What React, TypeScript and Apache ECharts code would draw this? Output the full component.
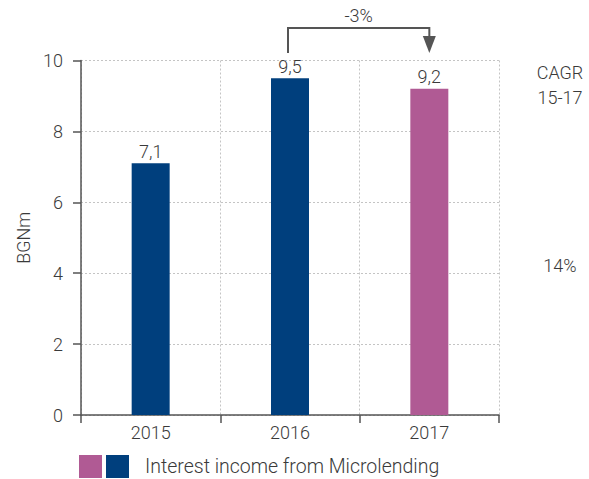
import React, { useEffect, useRef } from "react";
import * as echarts from "echarts";

const categories = ["2015", "2016", "2017"];
const values = [7.1, 9.5, 9.2];
const barColors = ["#003f7d", "#003f7d", "#b05a94"];
const yMin = 0;
const yMax = 10;
const yInterval = 2;
const changeLabel = "-3%";
const cagrLines = ["CAGR", "15-17"];
const cagrValue = "14%";
const legendLabel = "Interest income from Microlending";
const yAxisName = "BGNm";

const FONT = "Roboto, 'Liberation Sans', sans-serif";
const FW = 300;
const FS = 18;
const TEXT = "#3a3a3a";
const AXIS = "#555555";

export default function App() {
  const ref = useRef<HTMLDivElement>(null);
  useEffect(() => {
    if (!ref.current) return;
    const chart = echarts.init(ref.current, undefined, { renderer: "svg" });
    const gridTop = 60.5;
    const ts = { fontSize: FS, color: TEXT, fontFamily: FONT, fontWeight: FW };
    const option: any = {
      animation: false,
      textStyle: { fontFamily: FONT },
      grid: { left: 81, right: 90, top: gridTop, bottom: 64, containLabel: false },
      legend: {
        left: 106,
        top: 455,
        padding: 0,
        itemWidth: 23,
        itemHeight: 23,
        icon: "rect",
        selectedMode: false,
        textStyle: { ...ts, fontSize: 19.5, padding: [0, 0, 0, 11] },
        data: [legendLabel],
      },
      xAxis: {
        type: "category",
        data: categories,
        boundaryGap: true,
        axisLine: { show: true, lineStyle: { color: AXIS, width: 1.5 } },
        axisTick: { show: true, length: 8, lineStyle: { color: AXIS, width: 1.5 } },
        axisLabel: { ...ts, margin: 8 },
        splitLine: { show: true, lineStyle: { color: "#c4c4c4", type: [2, 2], width: 1 } },
      },
      yAxis: {
        type: "value",
        min: yMin,
        max: yMax,
        interval: yInterval,
        name: yAxisName,
        nameLocation: "middle",
        nameGap: 48,
        nameRotate: 90,
        nameTextStyle: { ...ts },
        axisLine: { show: true, lineStyle: { color: AXIS, width: 1.5 } },
        axisTick: { show: true, length: 8, lineStyle: { color: AXIS, width: 1.5 } },
        axisLabel: { ...ts, margin: 18 },
        splitLine: { show: true, lineStyle: { color: "#c4c4c4", type: [2, 2], width: 1 } },
      },
      series: [
        {
          name: legendLabel,
          type: "bar",
          barWidth: 38,
          itemStyle: { color: barColors[0] },
          data: values.map((v, i) => ({ value: v, itemStyle: { color: barColors[i] } })),
          label: {
            show: true,
            position: "top",
            distance: 3,
            ...ts,
            formatter: (p: any) => String(p.value).replace(".", ","),
          },
        },
      ],
    };
    chart.setOption(option);

    const x16 = chart.convertToPixel({ xAxisIndex: 0 }, categories[1]) as number;
    const x17 = chart.convertToPixel({ xAxisIndex: 0 }, categories[2]) as number;
    const x16a = x16 - 2;
    const lineTop = gridTop - 32.5;
    const lineBottom = gridTop - 7.5;
    const cagrX = 560;
    const gts = { fontSize: FS, fill: TEXT, fontFamily: FONT, fontWeight: FW, align: "center", verticalAlign: "middle" };

    chart.setOption({
      graphic: [
        {
          type: "polyline",
          shape: {
            points: [
              [x16a, lineBottom],
              [x16a, lineTop],
              [x17, lineTop],
              [x17, lineBottom - 14],
            ],
          },
          style: { stroke: AXIS, lineWidth: 2, fill: "none" },
        },
        {
          type: "polygon",
          shape: {
            points: [
              [x17 - 6.5, lineBottom - 17],
              [x17 + 6.5, lineBottom - 17],
              [x17, lineBottom],
            ],
          },
          style: { fill: AXIS },
        },
        { type: "text", x: (x16a + x17) / 2, y: 15, style: { text: changeLabel, ...gts } },
        { type: "text", x: cagrX, y: 72, style: { text: cagrLines[0], ...gts } },
        { type: "text", x: cagrX, y: 97, style: { text: cagrLines[1], ...gts } },
        { type: "text", x: cagrX, y: 265, style: { text: cagrValue, ...gts } },
        {
          type: "rect",
          shape: { x: 79, y: 455, width: 23, height: 23 },
          style: { fill: barColors[2] },
        },
      ],
    });
    return () => chart.dispose();
  }, []);
  return (
    <div
      ref={ref}
      style={{ position: "fixed", left: 0, top: 0, width: 589, height: 479, background: "#fff" }}
    />
  );
}
